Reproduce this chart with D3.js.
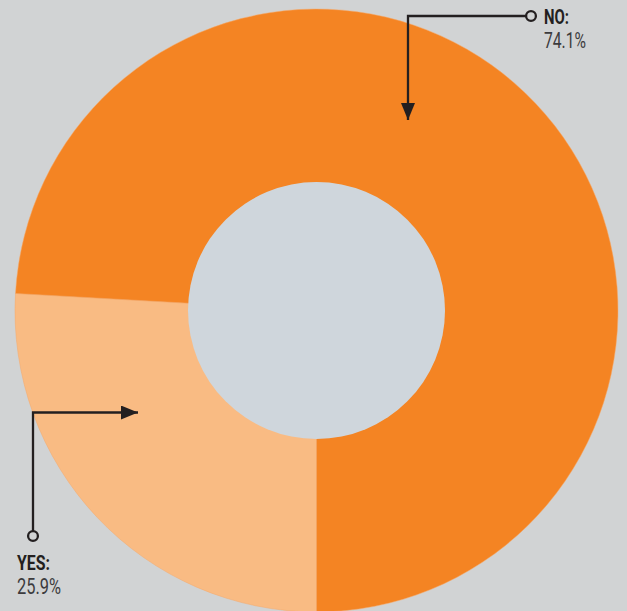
<!DOCTYPE html>
<html>
<head>
<meta charset="utf-8">
<script src="https://cdn.jsdelivr.net/npm/d3@7"></script>
<style>
  html, body { margin: 0; padding: 0; background: #d1d3d4; }
  svg { display: block; }
  .lbl { font-family: "Roboto", "Liberation Sans", sans-serif; }
</style>
</head>
<body>
<svg id="chart" width="627" height="611"></svg>
<script>
// Survey answers (percent)
const answers = ["YES", "NO"];
const shares = [25.9, 74.1];
const sliceColors = ["#f9bb83", "#f48423"];

const width = 627, height = 611;
const cx = 316.5, cy = 310.5;
const outerR = 301.5, innerR = 128.5;

const svg = d3.select("#chart");
svg.append("rect").attr("width", width).attr("height", height).attr("fill", "#d1d3d4");

const data = answers.map((a, i) => ({ answer: a, value: shares[i] }));

// YES begins at six o'clock and runs clockwise; NO fills the rest
const pie = d3.pie().sort(null).value(d => d.value)
  .startAngle(Math.PI).endAngle(3 * Math.PI);
const arc = d3.arc().innerRadius(innerR - 1).outerRadius(outerR);

const color = d3.scaleOrdinal().domain(answers).range(sliceColors);

const g = svg.append("g").attr("transform", `translate(${cx},${cy})`);
g.selectAll("path.slice")
  .data(pie(data))
  .join("path")
  .attr("class", "slice")
  .attr("d", arc)
  .attr("fill", d => color(d.data.answer))
  .attr("stroke", "#f7a868")
  .attr("stroke-width", 0.5);

// Hole of the donut
g.append("circle").attr("r", innerR).attr("fill", "#cfd6dc");

// Leader lines with end rings and arrowheads
const ink = "#231f20";
const defs = svg.append("defs");
defs.append("marker")
  .attr("id", "head")
  .attr("viewBox", "0 0 17 14")
  .attr("refX", 17).attr("refY", 7)
  .attr("markerWidth", 17).attr("markerHeight", 14)
  .attr("markerUnits", "userSpaceOnUse")
  .attr("orient", "auto")
  .append("path").attr("d", "M0,0 L17,7 L0,14 Z").attr("fill", ink);

const leaders = [
  { pts: [[526, 16], [408, 16], [408, 120]], ring: [531, 16] },
  { pts: [[33, 531], [33, 412.5], [138, 412.5]], ring: [33, 536] }
];
leaders.forEach(l => {
  svg.append("path")
    .attr("d", d3.line()(l.pts))
    .attr("fill", "none")
    .attr("stroke", ink)
    .attr("stroke-width", 2.3)
    .attr("marker-end", "url(#head)");
  svg.append("circle")
    .attr("cx", l.ring[0]).attr("cy", l.ring[1]).attr("r", 4.9)
    .attr("fill", "none").attr("stroke", ink).attr("stroke-width", 2.3);
});

// Labels in a condensed setting
const labels = [
  { x: 544, y: 24, answer: "NO", nameW: 25, valW: 42 },
  { x: 17, y: 570, answer: "YES", nameW: 33, valW: 44 }
];
labels.forEach(l => {
  const i = answers.indexOf(l.answer);
  svg.append("text").attr("class", "lbl")
    .attr("x", l.x).attr("y", l.y)
    .attr("font-size", 21).attr("font-weight", "bold")
    .attr("fill", ink)
    .attr("textLength", l.nameW).attr("lengthAdjust", "spacingAndGlyphs")
    .text(l.answer + ":");
  svg.append("text").attr("class", "lbl")
    .attr("x", l.x).attr("y", l.y + 24)
    .attr("font-size", 22)
    .attr("fill", "#3c3b3d")
    .attr("textLength", l.valW).attr("lengthAdjust", "spacingAndGlyphs")
    .text(d3.format(".1f")(shares[i]) + "%");
});
</script>
</body>
</html>
